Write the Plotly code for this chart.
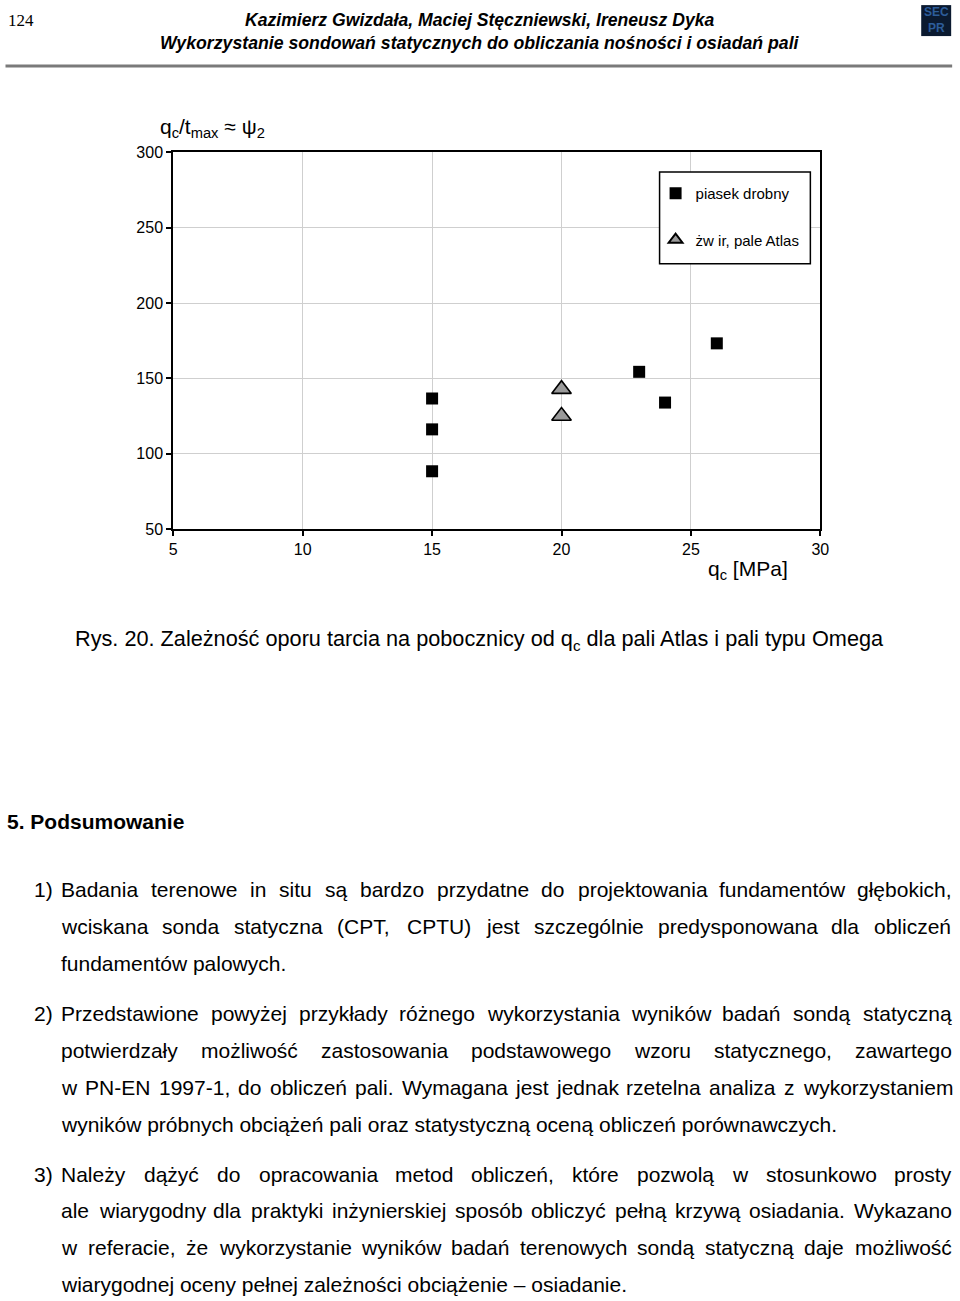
import plotly.graph_objects as go

W, H = 960, 1301
# The captured page shows the figure offset by the body margin and slightly
# scaled; positions below are page positions, mapped back to figure pixels.
S = 1301 / 1317
OFFX, OFFY = 3.5, 7.9
TEXT_PAD = 3  # annotation box padding to the left of left-anchored text

# ---- data ----
sand_qc = [15, 15, 15, 23, 24, 26]
sand_psi = [136.7, 116.2, 88.4, 154.4, 134.0, 173.3]
gravel_qc = [20, 20]
gravel_psi = [142.9, 125.1]

x_ticks = [5, 10, 15, 20, 25, 30]
y_ticks = [50, 100, 150, 200, 250, 300]

sand_name = "piasek drobny"
gravel_name = "żw ir, pale Atlas"

header_num = "124"
header_authors = "Kazimierz Gwizdała, Maciej Stęczniewski, Ireneusz Dyka"
header_title = "Wykorzystanie sondowań statycznych do obliczania nośności i osiadań pali"
caption = "Rys. 20. Zależność oporu tarcia na pobocznicy od q<sub>c</sub> dla pali Atlas i pali typu Omega"
section = "5. Podsumowanie"

paragraphs = [
    ("1)", [
        ("Badania terenowe in situ są bardzo przydatne do projektowania fundamentów głębokich,", True),
        ("wciskana sonda statyczna (CPT, CPTU) jest szczególnie predysponowana dla obliczeń", True),
        ("fundamentów palowych.", False),
    ]),
    ("2)", [
        ("Przedstawione powyżej przykłady różnego wykorzystania wyników badań sondą statyczną", True),
        ("potwierdzały możliwość zastosowania podstawowego wzoru statycznego, zawartego", True),
        ("w PN-EN 1997-1, do obliczeń pali. Wymagana jest jednak rzetelna analiza z wykorzystaniem", True),
        ("wyników próbnych obciążeń pali oraz statystyczną oceną obliczeń porównawczych.", False),
    ]),
    ("3)", [
        ("Należy dążyć do opracowania metod obliczeń, które pozwolą w stosunkowo prosty", True),
        ("ale wiarygodny dla praktyki inżynierskiej sposób obliczyć pełną krzywą osiadania. Wykazano", True),
        ("w referacie, że wykorzystanie wyników badań terenowych sondą statyczną daje możliwość", True),
        ("wiarygodnej oceny pełnej zależności obciążenie – osiadanie.", False),
    ]),
]
para_top = [890, 1014, 1175]
line_gap = 37

# ---- text metrics (Arial / Liberation Sans, per 1000 em) ----
AW = {' ': 278, '!': 278, '(': 333, ')': 333, ',': 278, '-': 333, '.': 278, '/': 278, ':': 278, '–': 556}
for c in '0123456789':
    AW[c] = 556
AW.update(dict(zip('ABCDEFGHIJKLMNOPQRSTUVWXYZ',
                   [667, 667, 722, 722, 667, 611, 778, 722, 278, 500, 667, 556, 833, 722, 778, 667, 778, 722, 667, 611, 722, 667, 944, 667, 667, 611])))
AW.update(dict(zip('abcdefghijklmnopqrstuvwxyz',
                   [556, 556, 500, 556, 556, 278, 556, 556, 222, 222, 500, 222, 833, 556, 556, 556, 556, 333, 500, 278, 556, 500, 722, 500, 500, 500])))
AW.update({'ą': 556, 'ę': 556, 'ó': 556, 'ł': 222, 'ż': 500, 'ź': 500, 'ć': 500, 'ń': 556, 'ś': 500, 'Ł': 556, 'Ż': 611, 'Ś': 667})


def tw(s, fs):
    return sum(AW.get(c, 556) for c in s) * fs / 1000.0


FONT = "Liberation Sans, Arial, sans-serif"
BODY_FS = 21
TEXT_L, TEXT_R, LABEL_X = 62, 952, 35


def fx(x):  # page x -> figure px
    return (x - OFFX) / S


def fy(y):
    return (y - OFFY) / S


def PX(x):
    return fx(x) / W


def PY(y):
    return 1 - fy(y) / H


fig = go.Figure()

fig.add_trace(go.Scatter(
    x=sand_qc, y=sand_psi, mode="markers", name=sand_name, legendgroup="a",
    marker=dict(symbol="square", size=12, color="black", line=dict(width=0)),
))
fig.add_trace(go.Scatter(
    x=gravel_qc, y=gravel_psi, mode="markers", name=gravel_name, legendgroup="b",
    marker=dict(symbol="triangle-up", size=17, color="#9a9a9a", line=dict(width=1.6, color="black")),
))

px0, px1 = 173, 821
py0, py1 = 152.5, 529.5

ann = []


def add_text_fig(xf, y, text, size, anchor="left", **font):
    if anchor == "left":
        xf -= TEXT_PAD
    ann.append(dict(x=xf / W, y=PY(y), xref="paper", yref="paper", text=text, showarrow=False,
                    xanchor=anchor, yanchor="middle",
                    font=dict(size=size, family=font.pop("family", FONT), color=font.pop("color", "black"), **font)))


def add_text(x, y, text, size, anchor="left", **font):
    add_text_fig(fx(x), y, text, size, anchor, **font)


NARROW = "Liberation Sans Narrow, Arial Narrow, Liberation Sans, sans-serif"
# header
add_text(8, 20, header_num, 17, family="Liberation Serif, Times New Roman, serif")
add_text(480, 20, "<b><i>%s</i></b>" % header_authors, 17.6, anchor="center", family=NARROW)
add_text(480, 43, "<b><i>%s</i></b>" % header_title, 17.7, anchor="center", family=NARROW)
add_text(937, 20, "<b>SEC<br>PR</b>", 12, anchor="center", color="#2d5d9a")

# chart titles
add_text(161, 128, "q<sub>c</sub>/t<sub>max</sub> ≈ ψ<sub>2</sub>", 21)
add_text(709, 570, "q<sub>c</sub> [MPa]", 21)

# caption
add_text(76, 640, caption, 21.7)

# section
add_text(7, 822, "<b>%s</b>" % section, BODY_FS)

# paragraphs (justified lines laid out in figure pixels)
L, R = fx(TEXT_L), fx(TEXT_R)
for (label, lines), top in zip(paragraphs, para_top):
    for i, (line, just) in enumerate(lines):
        y = top + i * line_gap
        if i == 0:
            add_text(LABEL_X, y, label, BODY_FS)
        if not just:
            add_text_fig(L, y, line, BODY_FS)
            continue
        words = line.split(" ")
        widths = [tw(w_, BODY_FS) for w_ in words]
        gap = (R - L - sum(widths)) / (len(words) - 1)
        x = L
        for wd, wdw in zip(words, widths):
            add_text_fig(x, y, wd, BODY_FS)
            x += wdw + gap

shapes = [
    dict(type="line", xref="paper", yref="paper", x0=PX(5), x1=PX(953), y0=PY(66), y1=PY(66),
         line=dict(color="#7a7a7a", width=3)),
    dict(type="rect", xref="paper", yref="paper", x0=PX(922), x1=PX(952), y0=PY(36), y1=PY(5),
         fillcolor="#0b1a30", line=dict(width=0), layer="below"),
    # legend frame
    dict(type="rect", xref="paper", yref="paper", x0=PX(660), x1=PX(811), y0=PY(264), y1=PY(172),
         fillcolor="white", line=dict(color="black", width=1.5), layer="above"),
]

axis_common = dict(showline=True, linecolor="black", linewidth=2, mirror=True,
                   ticks="outside", ticklen=5, tickwidth=1.5, tickcolor="black",
                   showgrid=True, gridcolor="#cfcfcf", gridwidth=1, zeroline=False,
                   tickfont=dict(size=16, family=FONT, color="black"))

fig.update_layout(
    width=W, height=H, margin=dict(l=0, r=0, t=0, b=0),
    paper_bgcolor="white", plot_bgcolor="white",
    xaxis=dict(domain=[PX(px0), PX(px1)], range=[5, 30], tickvals=x_ticks, **axis_common),
    yaxis=dict(domain=[PY(py1), PY(py0)], range=[50, 300], tickvals=y_ticks, **axis_common),
    showlegend=True,
    legend=dict(x=PX(656), y=PY(177), xanchor="left", yanchor="top",
                bgcolor="rgba(0,0,0,0)", borderwidth=0,
                font=dict(size=15, family=FONT, color="black"),
                tracegroupgap=24, itemsizing="constant"),
    annotations=ann, shapes=shapes,
)

fig.write_html("out.html")
